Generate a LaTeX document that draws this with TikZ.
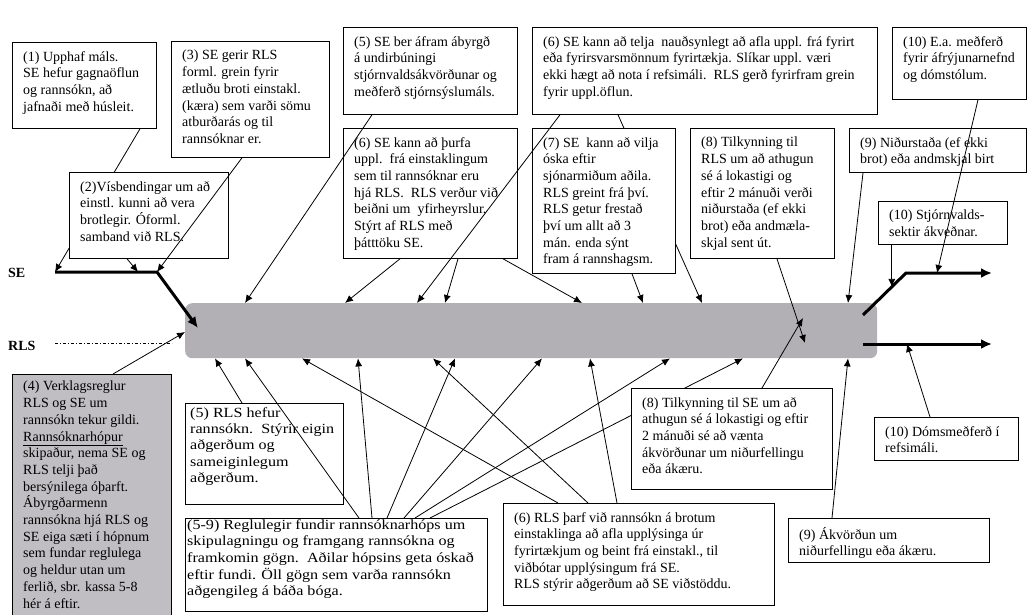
\documentclass[tikz,border=0pt]{standalone}
\usepackage{fontspec}
\setmainfont{Liberation Serif}
\newfontfamily\widefont[FakeStretch=1.15]{Liberation Serif}
\usetikzlibrary{arrows.meta}
\definecolor{bargray}{RGB}{179,176,181}
\definecolor{boxgray}{RGB}{192,190,194}

\begin{document}
\begin{tikzpicture}[
    x = 1pt,
    y = -1pt,
    >={Latex[length=8pt,width=7pt]},
    box/.style = {
      draw,
      fill = white,
      line width = 0.8pt,
      anchor = north west,
      inner sep = 0pt
    },
    txt/.style = {
      anchor = north west,
      align = left,
      inner xsep = 11pt,
      inner ysep = 9pt,
      font = \fontsize{14}{16.7}\selectfont
    },
    con/.style = {->, line width = 0.8pt},
    heavy/.style = {-{Latex[length=11pt,width=10pt]}, line width = 3pt},
    side/.style = {
      anchor = base west,
      inner sep = 0pt,
      font = \fontsize{14}{16}\selectfont\bfseries
    }
  ]
  \useasboundingbox (0,0) rectangle (1027,614);

  \node[fill=bargray, rounded corners=7pt, anchor=north west, inner sep=0pt,
    minimum width=692pt, minimum height=55pt] (bar) at (185,303) {};

  \node[side] (se) at (8,277) {SE};
  \node[side] (rls) at (8,350) {RLS};
  \coordinate (sea) at (55,272);
  \coordinate (seb) at (157,272);
  \coordinate (rlsa) at (55,343);
  \coordinate (rs) at (863,315);
  \coordinate (rk) at (906,273);
  \coordinate (re) at (992,273);
  \coordinate (rl1) at (863,344);
  \coordinate (rl2) at (992,344);
  \path (rs) -- (rk) coordinate[pos=0.67] (rm);

  \draw[heavy] (sea) -- (seb) -- ([xshift=13pt,yshift=-25pt]bar.north west);
  \draw[line width=0.8pt, dash pattern=on 3pt off 2pt on 1pt off 2pt]
    (rlsa) -- ([xshift=-13pt,yshift=-40pt]bar.north west);
  \draw[heavy] (rs) -- (rk) -- (re);
  \draw[heavy] (rl1) -- (rl2);

  \node[box, minimum width=144pt, minimum height=86pt] (b1) at (12,42) {};
  \node[txt] (t1) at (b1.north west) {(1) Upphaf máls.\\SE hefur gagnaöflun\\og rannsókn, að\\jafnaði með húsleit.};
  \draw[con] ([xshift=128pt]b1.south west) -- (sea);

  \node[box, minimum width=159pt, minimum height=86pt] (b2) at (69,172) {};
  \node[txt] (t2) at (b2.north west) {(2)Vísbendingar um að\\einstl. kunni að vera\\brotlegir. Óforml.\\samband við RLS.};
  \node[box, minimum width=158pt, minimum height=116pt] (b3) at (171,41) {};
  \node[txt] (t3) at (b3.north west) {(3) SE gerir RLS\\forml. grein fyrir\\ætluðu broti einstakl.\\(kæra) sem varði sömu\\atburðarás og til\\rannsóknar er.};
  \draw[con] ([xshift=58pt]b2.south west) -- ([xshift=-19pt]seb);
  \draw[con] ([xshift=71pt]b3.south west) -- (seb);

  \node[box, minimum width=174pt, minimum height=87pt] (b5t) at (343,27) {};
  \node[txt] (t5t) at (b5t.north west) {(5) SE ber áfram ábyrgð\\á undirbúningi\\stjórnvaldsákvörðunar og\\meðferð stjórnsýslumáls.};
  \node[box, minimum width=345pt, minimum height=87pt] (b6t) at (532,27) {};
  \node[txt] (t6t) at (b6t.north west) {(6) SE kann að telja\ \ nauðsynlegt að afla uppl. frá fyrirt\\eða fyrirsvarsmönnum fyrirtækja. Slíkar uppl. væri\\ekki hægt að nota í refsimáli.\ \ RLS gerð fyrirfram grein\\fyrir uppl.öflun.};
  \node[box, minimum width=134pt, minimum height=72pt] (b10t) at (892,27) {};
  \node[txt] (t10t) at (b10t.north west) {(10) E.a. meðferð\\fyrir áfrýjunarnefnd\\og dómstólum.};

  \node[box, minimum width=174pt, minimum height=130pt] (b6m) at (343,128) {};
  \node[txt] (t6m) at (b6m.north west) {(6) SE kann að þurfa\\uppl.\ \ frá einstaklingum\\sem til rannsóknar eru\\hjá RLS.\ \ RLS verður við\\beiðni um\ \ yfirheyrslur.\\Stýrt af RLS með\\þátttöku SE.};
  \draw[con] ([xshift=86pt]b6t.south west) -- ([xshift=517pt]bar.north west);
  \node[box, minimum width=143pt, minimum height=145pt] (b7) at (532,128) {};
  \node[txt] (t7) at (b7.north west) {(7) SE\ \ kann að vilja\\óska eftir\\sjónarmiðum aðila.\\RLS greint frá því.\\RLS getur frestað\\því um allt að 3\\mán. enda sýnt\\fram á rannshagsm.};
  \node[box, minimum width=144pt, minimum height=130pt] (b8t) at (690,128) {};
  \node[txt] (t8t) at (b8t.north west) {(8) Tilkynning til\\RLS um að athugun\\sé á lokastigi og\\eftir 2 mánuði verði\\niðurstaða (ef ekki\\brot) eða andmæla-\\skjal sent út.};
  \node[box, minimum width=177pt, minimum height=44pt] (b9t) at (849,128) {};
  \node[txt] (t9t) at (b9t.north west) {(9) Niðurstaða (ef ekki\\brot) eða andmskjal birt};
  \node[box, minimum width=129pt, minimum height=43pt] (b10m) at (878,201) {};
  \node[txt] (t10m) at (b10m.north west) {(10) Stjórnvalds-\\sektir ákveðnar.};

  \draw[con] ([xshift=29pt]b5t.south west) -- ([xshift=60pt]bar.north west);
  \draw[con] ([xshift=57pt]b6m.south west) -- ([xshift=160pt]bar.north west);
  \draw[con] ([xshift=28pt]b6t.south west) -- ([xshift=232pt]bar.north west);
  \draw[con] ([xshift=115pt]b6m.south west) -- ([xshift=260pt]bar.north west);
  \draw[con] ([xshift=160pt]b6m.south west) -- ([xshift=397pt]bar.north west);
  \draw[con] ([xshift=100pt]b7.south west) -- ([xshift=458pt]bar.north west);
  \draw[con] ([xshift=14pt]b9t.south west) -- ([xshift=663pt]bar.north west);
  \draw[con] ([xshift=87pt]b8t.south west) -- ([xshift=620pt,yshift=-40pt]bar.north west);
  \draw[con] ([xshift=86pt]b10t.south west) -- ([xshift=31pt]rk);
  \draw[con] (rm |- b10m.south) -- (rm);

  \node[box, fill=boxgray, minimum width=159pt, minimum height=250pt] (b4) at (12,374) {};
  \node[txt, inner ysep=7pt] (t4) at (b4.north west) {(4) Verklagsreglur\\RLS og SE um\\rannsókn tekur gildi.\\\underline{Rannsóknarhópur}\\skipaður, nema SE og\\RLS telji það\\bersýnilega óþarft.\\Ábyrgðarmenn\\rannsókna hjá RLS og\\SE eiga sæti í hópnum\\sem fundar reglulega\\og heldur utan um\\ferlið, sbr. kassa 5-8\\hér á eftir.};
  \draw[con] ([xshift=101pt]b4.north west) -- ([yshift=-29pt]bar.north west);

  \node[box, minimum width=158pt, minimum height=101pt] (b5b) at (185,403) {};
  \node[txt, inner xsep=5pt, inner ysep=4pt, font=\widefont\fontsize{14}{16.4}\selectfont] (t5b) at (b5b.north west) {(5) RLS hefur\\rannsókn.\ \ Stýrir eigin\\aðgerðum og\\sameiginlegum\\aðgerðum.};
  \draw[con] ([xshift=57pt]b5b.north west) -- ([xshift=30pt]bar.south west);

  \node[box, minimum width=302pt, minimum height=93pt] (b59) at (185,518) {};
  \node[txt, inner xsep=2pt, inner ysep=1pt, font=\widefont\fontsize{14}{16.7}\selectfont] (t59) at (b59.north west) {(5-9) Reglulegir fundir rannsóknarhóps um\\skipulagningu og framgang rannsókna og\\framkomin gögn.\ \ Aðilar hópsins geta óskað\\eftir fundi. Öll gögn sem varða rannsókn\\aðgengileg á báða bóga.};
  \draw[con] ([xshift=245pt]b59.north west) -- ([xshift=558pt]bar.south west);

  \node[box, minimum width=271pt, minimum height=102pt] (b6b) at (503,503) {};
  \node[txt] (t6b) at (b6b.north west) {(6) RLS þarf við rannsókn á brotum\\einstaklinga að afla upplýsinga úr\\fyrirtækjum og beint frá einstakl., til\\viðbótar upplýsingum frá SE.\\RLS stýrir aðgerðum að SE viðstöddu.};
  \node[box, minimum width=201pt, minimum height=101pt] (b8b) at (631,388) {};
  \node[txt] (t8b) at (b8b.north west) {(8) Tilkynning til SE um að\\athugun sé á lokastigi og eftir\\2 mánuði sé að vænta\\ákvörðunar um niðurfellingu\\eða ákæru.};
  \node[box, minimum width=201pt, minimum height=44pt] (b9b) at (788,518) {};
  \node[txt] (t9b) at (b9b.north west) {(9) Ákvörðun um\\niðurfellingu eða ákæru.};
  \node[box, minimum width=144pt, minimum height=43pt] (b10b) at (874,417) {};
  \node[txt] (t10b) at (b10b.north west) {(10) Dómsmeðferð í\\refsimáli.};

  \draw[con] ([xshift=174pt]b59.north west) -- ([xshift=60pt]bar.south west);
  \draw[con] ([xshift=187pt]b59.north west) -- ([xshift=173pt]bar.south west);
  \draw[con] ([xshift=202pt]b59.north west) -- ([xshift=270pt]bar.south west);
  \draw[con] ([xshift=219pt]b59.north west) -- ([xshift=357pt]bar.south west);
  \draw[con] ([xshift=230pt]b59.north west) -- ([xshift=485pt]bar.south west);
  \draw[con] ([xshift=55pt]b6b.north west) -- ([xshift=117pt]bar.south west);
  \draw[con] ([xshift=85pt]b6b.north west) -- ([xshift=248pt]bar.south west);
  \draw[con] ([xshift=114pt]b6b.north west) -- ([xshift=405pt]bar.south west);
  \draw[con] ([xshift=131pt]b8b.north west) -- ([xshift=618pt,yshift=-15pt]bar.north west);
  \draw[con] ([xshift=44pt]b9b.north west) -- ([xshift=663pt]bar.south west);
  \draw[con] ([xshift=56pt]b10b.north west) -- ([xshift=44pt]rl1);
\end{tikzpicture}
\end{document}
